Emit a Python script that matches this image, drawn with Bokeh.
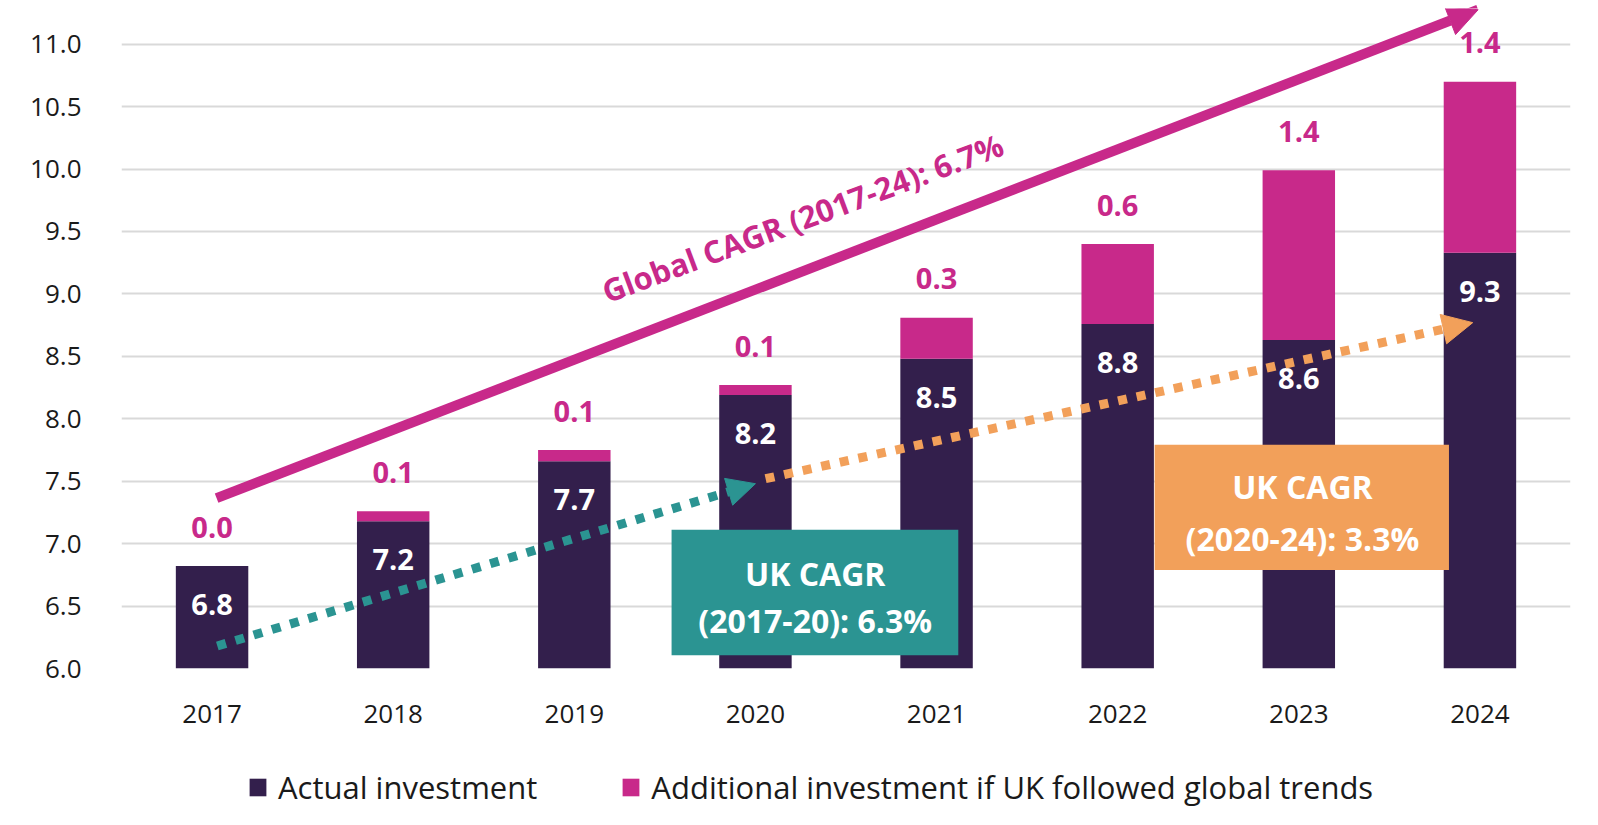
import math
from bokeh.plotting import figure
from bokeh.layouts import column
from bokeh.models import (ColumnDataSource, Range1d, FixedTicker, NumeralTickFormatter,
                          Arrow, NormalHead, Legend, LegendItem)
from bokeh.core.properties import value
from bokeh.embed import file_html
from bokeh.resources import INLINE

# ---------------- data ----------------
years = ["2017", "2018", "2019", "2020", "2021", "2022", "2023", "2024"]
actual = [6.82, 7.18, 7.66, 8.19, 8.48, 8.76, 8.63, 9.33]
additional = [0.0, 0.08, 0.09, 0.08, 0.33, 0.64, 1.36, 1.37]
y_ticks = [6.0, 6.5, 7.0, 7.5, 8.0, 8.5, 9.0, 9.5, 10.0, 10.5, 11.0]
series_names = ["Actual investment", "Additional investment if UK followed global trends"]
global_label = "Global CAGR (2017-24): 6.7%"
uk1_lines = ["UK CAGR", "(2017-20): 6.3%"]
uk2_lines = ["UK CAGR", "(2020-24): 3.3%"]

# annotation geometry (synthetic categorical x, data y)
global_arrow = dict(x0=0.525, y0=7.364, x1=7.49, y1=11.276)
teal_arrow = dict(x0=0.529, y0=6.18, x1=3.50, y1=7.48)
orange_arrow = dict(x0=3.556, y0=7.52, x1=7.46, y1=8.77)
teal_box = dict(left=3.037, right=4.620, bottom=6.107, top=7.111, tx=3.83, ty=[6.76, 6.385])
orange_box = dict(left=5.704, right=7.329, bottom=6.788, top=7.792, tx=6.52, ty=[7.455, 7.04])
global_text_pos = dict(x=3.76, y=9.61, angle_deg=20.5)

# ---------------- style ----------------
DARK = "#331F4C"
PINK = "#C8298A"
TEAL = "#2B9492"
ORANGE = "#F2A05A"
GRID = "#D9D9D9"
FONT = "Open Sans"

totals = [a + b for a, b in zip(actual, additional)]
src = ColumnDataSource(dict(
    years=years,
    actual=actual,
    additional=additional,
    actual_lbl=[f"{v:.1f}" for v in actual],
    add_lbl=[f"{v:.1f}" for v in additional],
    actual_lbl_y=[v - 0.31 for v in actual],
    add_lbl_y=[t + 0.31 for t in totals],
))

p = figure(x_range=years, y_range=Range1d(6.0, 11.286),
           frame_width=1449, frame_height=660,
           output_backend="svg", toolbar_location=None,
           min_border_left=121, min_border_right=20, min_border_top=8, min_border_bottom=70)
p.outline_line_color = None
p.background_fill_color = "white"

renderers = p.vbar_stack(["actual", "additional"], x="years", width=0.4, source=src,
                         color=[DARK, PINK], line_color=None)

# grid / axes
p.xgrid.grid_line_color = None
p.ygrid.grid_line_color = GRID
p.ygrid.grid_line_width = 2
p.yaxis.ticker = FixedTicker(ticks=y_ticks)
p.yaxis.formatter = NumeralTickFormatter(format="0.0")
for ax in (p.xaxis, p.yaxis):
    ax.axis_line_color = None
    ax.major_tick_line_color = None
    ax.minor_tick_line_color = None
    ax.major_label_text_font = FONT
    ax.major_label_text_font_size = "26px"
    ax.major_label_text_color = "#1a1a1a"
p.yaxis.major_label_standoff = 34
p.xaxis.major_label_standoff = 30

# value labels
p.text(x="years", y="actual_lbl_y", text="actual_lbl", source=src, text_align="center",
       text_baseline="middle", text_color="white", text_font=value(FONT),
       text_font_style="bold", text_font_size="29px")
p.text(x="years", y="add_lbl_y", text="add_lbl", source=src, text_align="center",
       text_baseline="middle", text_color=PINK, text_font=value(FONT),
       text_font_style="bold", text_font_size="29px")

# CAGR boxes
for box, col, lines in ((teal_box, TEAL, uk1_lines), (orange_box, ORANGE, uk2_lines)):
    p.quad(left=[box["left"]], right=[box["right"]], bottom=[box["bottom"]], top=[box["top"]],
           fill_color=col, line_color=None)
    p.text(x=[box["tx"]] * len(lines), y=box["ty"], text=lines, text_align="center",
           text_baseline="middle", text_color="white", text_font=value(FONT),
           text_font_style="bold", text_font_size="32px")

# global label
p.text(x=[global_text_pos["x"]], y=[global_text_pos["y"]], text=[global_label],
       angle=math.radians(global_text_pos["angle_deg"]), text_align="center",
       text_baseline="middle", text_color=PINK, text_font=value(FONT),
       text_font_style="bold", text_font_size="31px")

# arrows
p.add_layout(Arrow(x_start=global_arrow["x0"], y_start=global_arrow["y0"],
                   x_end=global_arrow["x1"], y_end=global_arrow["y1"],
                   line_color=PINK, line_width=10,
                   end=NormalHead(size=30, fill_color=PINK, line_color=PINK)))
p.add_layout(Arrow(x_start=teal_arrow["x0"], y_start=teal_arrow["y0"],
                   x_end=teal_arrow["x1"], y_end=teal_arrow["y1"],
                   line_color=TEAL, line_width=9, line_dash="9 10",
                   end=NormalHead(size=28, fill_color=TEAL, line_color=TEAL, line_width=1)))
p.add_layout(Arrow(x_start=orange_arrow["x0"], y_start=orange_arrow["y0"],
                   x_end=orange_arrow["x1"], y_end=orange_arrow["y1"],
                   line_color=ORANGE, line_width=9, line_dash="9 10",
                   end=NormalHead(size=30, fill_color=ORANGE, line_color=ORANGE, line_width=1)))

# ---------------- legend strip below the chart ----------------
leg_fig = figure(width=1590, height=84, output_backend="svg", toolbar_location=None,
                 x_range=Range1d(0, 1), y_range=Range1d(0, 1),
                 min_border=0, x_axis_type=None, y_axis_type=None)
leg_fig.outline_line_color = None
leg_fig.xgrid.visible = False
leg_fig.ygrid.visible = False
# proxy renderers lying outside the visible range, used only for legend swatches
proxy = ColumnDataSource(dict(x=[-5.0], top=[-5.0]))
r_dark = leg_fig.vbar(x="x", top="top", width=0.1, source=proxy, fill_color=DARK, line_color=None)
r_pink = leg_fig.vbar(x="x", top="top", width=0.1, source=proxy, fill_color=PINK, line_color=None)
legend = Legend(items=[LegendItem(label=series_names[0], renderers=[r_dark]),
                       LegendItem(label=series_names[1], renderers=[r_pink])],
                orientation="horizontal", location=(126, 14),
                label_text_font=FONT, label_text_font_size="31px", label_text_color="#1a1a1a",
                glyph_width=21, glyph_height=22, label_standoff=10, spacing=83,
                border_line_color=None, background_fill_alpha=0, margin=0, padding=4)
leg_fig.add_layout(legend, "center")

layout = column(p, leg_fig, spacing=0)
open("out.html", "w").write(file_html(layout, INLINE))
